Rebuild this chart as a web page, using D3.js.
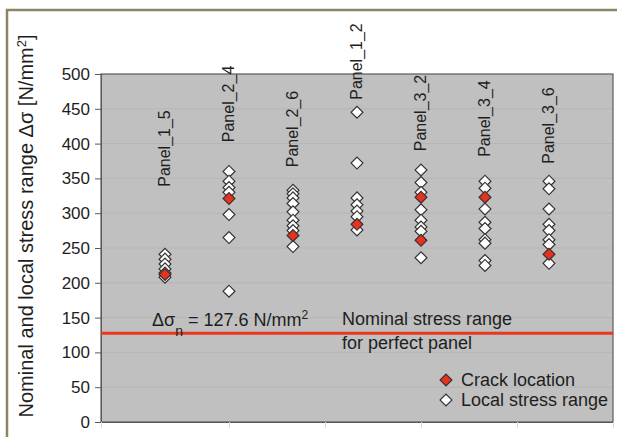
<!DOCTYPE html>
<html>
<head>
<meta charset="utf-8">
<script src="https://cdn.jsdelivr.net/npm/d3@7"></script>
<style>
  body { margin: 0; background: #fff; }
  text { font-family: "Liberation Sans", Arial, sans-serif; fill: #1e1e1e; }
</style>
</head>
<body>
<div id="chart"></div>
<script>
// panel names, in plot order (x = 1..7)
const panels = ["Panel_1_5", "Panel_2_4", "Panel_2_6", "Panel_1_2", "Panel_3_2", "Panel_3_4", "Panel_3_6"];

// local stress ranges per panel [N/mm2]
const localStress = [
  [241, 234, 227, 220, 214, 208],
  [360, 346, 337, 330, 298, 265, 188],
  [333, 328, 322, 314, 302, 290, 282, 275, 252],
  [445, 372, 322, 312, 303, 295, 276],
  [362, 344, 330, 305, 290, 280, 274, 236],
  [346, 336, 306, 287, 278, 262, 257, 232, 225],
  [346, 335, 306, 284, 275, 262, 255, 228]
];

// stress range at the crack location
const crackStress = [[212], [321], [268], [284], [323, 261], [323], [241]];

// where the panel name sits (value at the foot of the label)
const labelAt = [338, 402, 366, 463, 389, 381, 371];

const nominalStress = 127.6;
const yTicks = [0, 50, 100, 150, 200, 250, 300, 350, 400, 450, 500];
const xTicks = [0, 2, 3.5, 5, 6.5, 8];

const W = 617, H = 437;
const svg = d3.select("#chart").append("svg")
  .attr("width", W)
  .attr("height", H);

// outer frame
svg.append("path")
  .attr("d", `M7,${H} V10 H${W}`)
  .attr("fill", "none")
  .attr("stroke", "#8b8466")
  .attr("stroke-width", 2.5);

const x = d3.scaleLinear().domain([0, 8]).range([101, 613]);
const y = d3.scaleLinear().domain([0, 500]).range([422, 74]);

// plot area
svg.append("rect")
  .attr("x", x(0)).attr("y", y(500))
  .attr("width", x(8) - x(0)).attr("height", y(0) - y(500))
  .attr("fill", "#c0c0c0");

// grid lines
svg.append("g")
  .selectAll("line")
  .data(yTicks.slice(1, -1))
  .join("line")
  .attr("x1", x(0)).attr("x2", x(8))
  .attr("y1", d => y(d)).attr("y2", d => y(d))
  .attr("stroke", "#b6b6b6")
  .attr("stroke-width", 1);

svg.append("rect")
  .attr("x", x(0)).attr("y", y(500))
  .attr("width", x(8) - x(0)).attr("height", y(0) - y(500))
  .attr("fill", "none")
  .attr("stroke", "#5a5a5a")
  .attr("stroke-width", 1.2);

// y axis
const yAxis = svg.append("g")
  .attr("transform", `translate(${x(0)},0)`)
  .call(d3.axisLeft(y).tickValues(yTicks).tickSize(6).tickPadding(5));
yAxis.select(".domain").attr("stroke", "#5a5a5a");
yAxis.selectAll(".tick line").attr("stroke", "#5a5a5a");
yAxis.selectAll("text")
  .style("font-size", "17px")
  .style("font-family", "Liberation Sans, Arial, sans-serif")
  .attr("fill", "#1e1e1e");

// x axis (faint ticks only)
const xAxis = svg.append("g")
  .attr("transform", `translate(0,${y(0)})`)
  .call(d3.axisBottom(x).tickValues(xTicks).tickSize(6).tickFormat(""));
xAxis.select(".domain").attr("stroke", "#5a5a5a");
xAxis.selectAll(".tick line").attr("stroke", "#dcdcdc");

// y axis title
svg.append("text")
  .attr("transform", `translate(33,${(y(0) + 30) / 2}) rotate(-90)`)
  .attr("text-anchor", "middle")
  .style("font-size", "20px")
  .html("Nominal and local stress range Δσ [N/mm<tspan dy='-7' font-size='13px'>2</tspan><tspan dy='7'>]</tspan>");

// nominal stress line
svg.append("line")
  .attr("x1", x(0)).attr("x2", x(8))
  .attr("y1", y(nominalStress)).attr("y2", y(nominalStress))
  .attr("stroke", "#e8361f")
  .attr("stroke-width", 3);

const ann = svg.append("text")
  .attr("x", 152).attr("y", y(nominalStress) - 7)
  .style("font-size", "18px");
ann.append("tspan").text("Δσ");
ann.append("tspan").attr("dy", 10).style("font-size", "14px").text("n");
ann.append("tspan").attr("dy", -10).text(" = 127.6 N/mm");
ann.append("tspan").attr("dy", -7).style("font-size", "12px").text("2");

svg.append("text")
  .attr("x", 342).attr("y", y(nominalStress) - 8)
  .style("font-size", "18px")
  .text("Nominal stress range");
svg.append("text")
  .attr("x", 342).attr("y", y(nominalStress) + 16)
  .style("font-size", "18px")
  .text("for perfect panel");

// markers
const diamond = d3.symbol().type(d3.symbolSquare).size(70)();

const localPts = localStress.flatMap((vals, i) => vals.map(v => ({ i: i + 1, v })));
const crackPts = crackStress.flatMap((vals, i) => vals.map(v => ({ i: i + 1, v })));

svg.append("g")
  .selectAll("path")
  .data(localPts)
  .join("path")
  .attr("d", diamond)
  .attr("transform", d => `translate(${x(d.i)},${y(d.v)}) rotate(45)`)
  .attr("fill", "#ffffff")
  .attr("stroke", "#333")
  .attr("stroke-width", 1.2);

svg.append("g")
  .selectAll("path")
  .data(crackPts)
  .join("path")
  .attr("d", diamond)
  .attr("transform", d => `translate(${x(d.i)},${y(d.v)}) rotate(45)`)
  .attr("fill", "#e8321e")
  .attr("stroke", "#333")
  .attr("stroke-width", 1.2);

// panel labels
svg.append("g")
  .selectAll("text")
  .data(panels)
  .join("text")
  .attr("transform", (d, i) => `translate(${x(i + 1) + 5},${y(labelAt[i])}) rotate(-90)`)
  .attr("text-anchor", "start")
  .style("font-size", "16px")
  .text(d => d);

// legend
const legend = [
  { label: "Crack location", fill: "#e8321e" },
  { label: "Local stress range", fill: "#ffffff" }
];
const lg = svg.append("g")
  .selectAll("g")
  .data(legend)
  .join("g")
  .attr("transform", (d, i) => `translate(446,${380 + i * 20})`);
lg.append("path")
  .attr("d", diamond)
  .attr("transform", "rotate(45)")
  .attr("fill", d => d.fill)
  .attr("stroke", "#333")
  .attr("stroke-width", 1.2);
lg.append("text")
  .attr("x", 15).attr("y", 6)
  .style("font-size", "18px")
  .text(d => d.label);
</script>
</body>
</html>
